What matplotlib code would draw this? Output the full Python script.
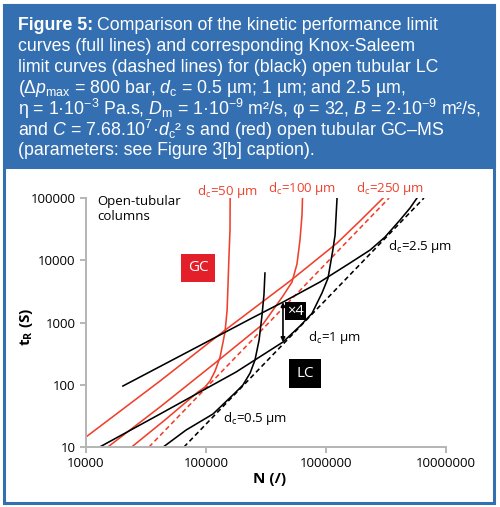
import matplotlib
matplotlib.use('Agg')
import matplotlib.pyplot as plt
from matplotlib.patches import Rectangle
from matplotlib.ticker import FixedLocator, NullLocator


# values (N, tR in s)
gc_50_N = [2.4e4, 4.55e4, 8.58e4, 9.81e4, 1.08e5, 1.19e5, 1.31e5, 1.44e5, 1.50e5, 1.52e5, 1.55e5, 1.585e5, 1.59e5]
gc_50_t = [10, 27.2, 76.6, 92, 115, 166, 279, 703, 1590, 3330, 10100, 30600, 1e5]

gc_100_N = [1.52e4, 4.14e4, 1.28e5, 2.99e5, 3.62e5, 4.38e5, 5.21e5, 5.73e5, 6.07e5, 6.31e5, 6.37e5]
gc_100_t = [10, 44.0, 250, 946, 1590, 2670, 4480, 8710, 21100, 53300, 1e5]

gc_250_N = [1.0e4, 4.14e4, 1.41e5, 5.01e5, 1.236e6, 1.92e6, 2.99e6]
gc_250_t = [14.5, 115, 730, 4640, 18900, 42800, 1e5]

gc_ks_N = [3.35e4, 3.35e6]
gc_ks_t = [10, 1e5]

lc_05_N = [4.4e4, 6.81e4, 1.143e5, 1.778e5, 2.03e5, 2.33e5, 2.56e5, 2.77e5, 2.93e5, 3.04e5, 3.10e5]
lc_05_t = [10, 18.7, 33.9, 76.6, 99, 154, 250, 524, 1320, 2770, 6240]

lc_1_N = [1.3e4, 4.14e4, 1.778e5, 4.38e5, 6.07e5, 7.64e5, 9.26e5, 1.04e6, 1.14e6, 1.19e6, 1.236e6]
lc_1_t = [10, 33.9, 160, 486, 879, 1400, 2980, 5190, 14600, 25500, 1e5]

lc_25_N = [2.03e4, 9.08e4, 2.33e5, 4.38e5, 8.91e5, 1.585e6, 2.33e6, 3.10e6, 4.14e6, 5.01e6, 5.73e6]
lc_25_t = [95.5, 436, 1137, 2130, 4480, 9040, 14600, 23600, 44400, 69000, 1e5]

lc_ks_N = [6.55e4, 6.55e6]
lc_ks_t = [10, 1e5]

# x4 arrow between the 2.5 and 1 um lines
arrow_N = 4.38e5
arrow_t = (2130, 486)

x_ticks = [1e4, 1e5, 1e6, 1e7]
x_labels = ['10000', '100000', '1000000', '10000000']
y_ticks = [10, 100, 1000, 10000, 100000]
y_labels = ['10', '100', '1000', '10000', '100000']

caption_head = 'Figure 5:'
caption = [
    'Comparison of the kinetic performance limit',
    'curves (full lines) and corresponding Knox-Saleem',
    'limit curves (dashed lines) for (black) open tubular LC',
    r'(Δ$\mathit{p}_\mathregular{max}$ = 800 bar, $\mathit{d}_\mathregular{c}$ = 0.5 µm; 1 µm; and 2.5 µm,',
    r'η = 1·10$^\mathregular{-3}$ Pa.s, $\mathit{D}_\mathregular{m}$ = 1·10$^\mathregular{-9}$ m²/s, φ = 32, '
    r'$\mathit{B}$ = 2·10$^\mathregular{-9}$ m²/s,',
    r'and $\mathit{C}$ = 7.68.10$^\mathregular{7}$·$\mathit{d}_\mathregular{c}$² s and (red) open tubular GC–MS',
    '(parameters: see Figure 3[b] caption).',
]

plt.rcParams['mathtext.fontset'] = 'custom'
plt.rcParams['mathtext.rm'] = 'Liberation Sans'
plt.rcParams['mathtext.it'] = 'Liberation Sans:italic'
plt.rcParams['mathtext.bf'] = 'Liberation Sans:bold'
plt.rcParams['font.family'] = ['Open Sans', 'DejaVu Sans']

blue = '#3470b1'
red = '#f0402c'
cap_family = ['Liberation Sans', 'DejaVu Sans']
cap_fs = 12.8

fig = plt.figure(figsize=(5, 5.07), dpi=100)

# frame and caption box
fig.patches.append(Rectangle((0.008, 0.008), 0.98, 0.982, transform=fig.transFigure,
                             facecolor='white', edgecolor=blue, linewidth=2.2, zorder=-2))
fig.patches.append(Rectangle((0.008, 0.6706), 0.98, 0.3194, transform=fig.transFigure,
                             facecolor=blue, edgecolor=blue, linewidth=2.2, zorder=-1))

renderer = fig.canvas.get_renderer()
for i, line in enumerate(caption):
    y = 1 - (26 + i * 20.8) / 507
    x = 0.035
    if i == 0:
        head = fig.text(x, y, caption_head, color='white', fontsize=cap_fs, fontweight='bold',
                        family=cap_family, va='center', ha='left')
        x = head.get_window_extent(renderer).x1 / fig.bbox.width + 0.008
    fig.text(x, y, line, color='white', fontsize=cap_fs,
             family=cap_family, va='center', ha='left')

ax = fig.add_axes([0.172, 0.1183, 0.72, 0.4911])
ax.set_zorder(2)
ax.set_xscale('log')
ax.set_yscale('log')
ax.set_xlim(1e4, 1e7)
ax.set_ylim(10, 1e5)

lw = 1.15
ax.plot(gc_50_N, gc_50_t, color=red, lw=lw)
ax.plot(gc_100_N, gc_100_t, color=red, lw=lw)
ax.plot(gc_250_N, gc_250_t, color=red, lw=lw)
ax.plot(gc_ks_N, gc_ks_t, color=red, lw=lw, dashes=(3, 2))
ax.plot(lc_05_N, lc_05_t, color='black', lw=lw)
ax.plot(lc_1_N, lc_1_t, color='black', lw=lw)
ax.plot(lc_25_N, lc_25_t, color='black', lw=lw)
ax.plot(lc_ks_N, lc_ks_t, color='black', lw=lw, dashes=(3, 2))

ax.annotate('', xy=(arrow_N, arrow_t[0]), xytext=(arrow_N, arrow_t[1]),
            arrowprops=dict(arrowstyle='<|-|>', color='black', lw=1.2,
                            mutation_scale=6, shrinkA=0, shrinkB=0))
ax.text(4.75e5, 1530, '×4', color='white', fontsize=10.5, ha='left', va='center',
        bbox=dict(boxstyle='square,pad=0.12', facecolor='black', edgecolor='none'))

ax.text(8.58e4, 7520, 'GC', color='white', fontsize=11, ha='center', va='center',
        bbox=dict(boxstyle='square,pad=0.45', facecolor='#e3202a', edgecolor='none'))
ax.text(6.68e5, 152, 'LC', color='white', fontsize=11, ha='center', va='center',
        bbox=dict(boxstyle='square,pad=0.45', facecolor='black', edgecolor='none'))

fs = 9.5
ax.text(8.41e4, 1.29e5, r'd$_\mathregular{c}$=50 µm', color=red, fontsize=fs, ha='left', va='center')
ax.text(3.29e5, 1.40e5, r'd$_\mathregular{c}$=100 µm', color=red, fontsize=fs, ha='left', va='center')
ax.text(1.78e6, 1.40e5, r'd$_\mathregular{c}$=250 µm', color=red, fontsize=fs, ha='left', va='center')
ax.text(3.29e6, 16900, r'd$_\mathregular{c}$=2.5 µm', color='black', fontsize=fs, ha='left', va='center')
ax.text(7.08e5, 585, r'd$_\mathregular{c}$=1 µm', color='black', fontsize=fs, ha='left', va='center')
ax.text(1.39e5, 28.2, r'd$_\mathregular{c}$=0.5 µm', color='black', fontsize=fs, ha='left', va='center')
ax.text(1.235e4, 1.12e5, 'Open-tubular\ncolumns', color='black', fontsize=fs, ha='left', va='top',
        linespacing=1.25)

ax.xaxis.set_major_locator(FixedLocator(x_ticks))
ax.yaxis.set_major_locator(FixedLocator(y_ticks))
ax.xaxis.set_minor_locator(NullLocator())
ax.yaxis.set_minor_locator(NullLocator())
ax.set_xticklabels(x_labels)
ax.set_yticklabels(y_labels)
ax.tick_params(colors='#aaaaaa', labelcolor='black', labelsize=9.5, length=4, width=1.2)
for s in ['top', 'right']:
    ax.spines[s].set_visible(False)
for s in ['left', 'bottom']:
    ax.spines[s].set_color('#b4b4b4')
    ax.spines[s].set_linewidth(1.4)
ax.patch.set_alpha(0)

ax.set_xlabel('N (/)', fontsize=11, fontweight='bold')
ax.set_ylabel(r't$_\mathregular{R}$ (S)', fontsize=11, fontweight='bold')
ax.xaxis.set_label_coords(0.511, -0.100)
ax.yaxis.set_label_coords(-0.142, 0.482)

fig.savefig('out.png', dpi=100)
